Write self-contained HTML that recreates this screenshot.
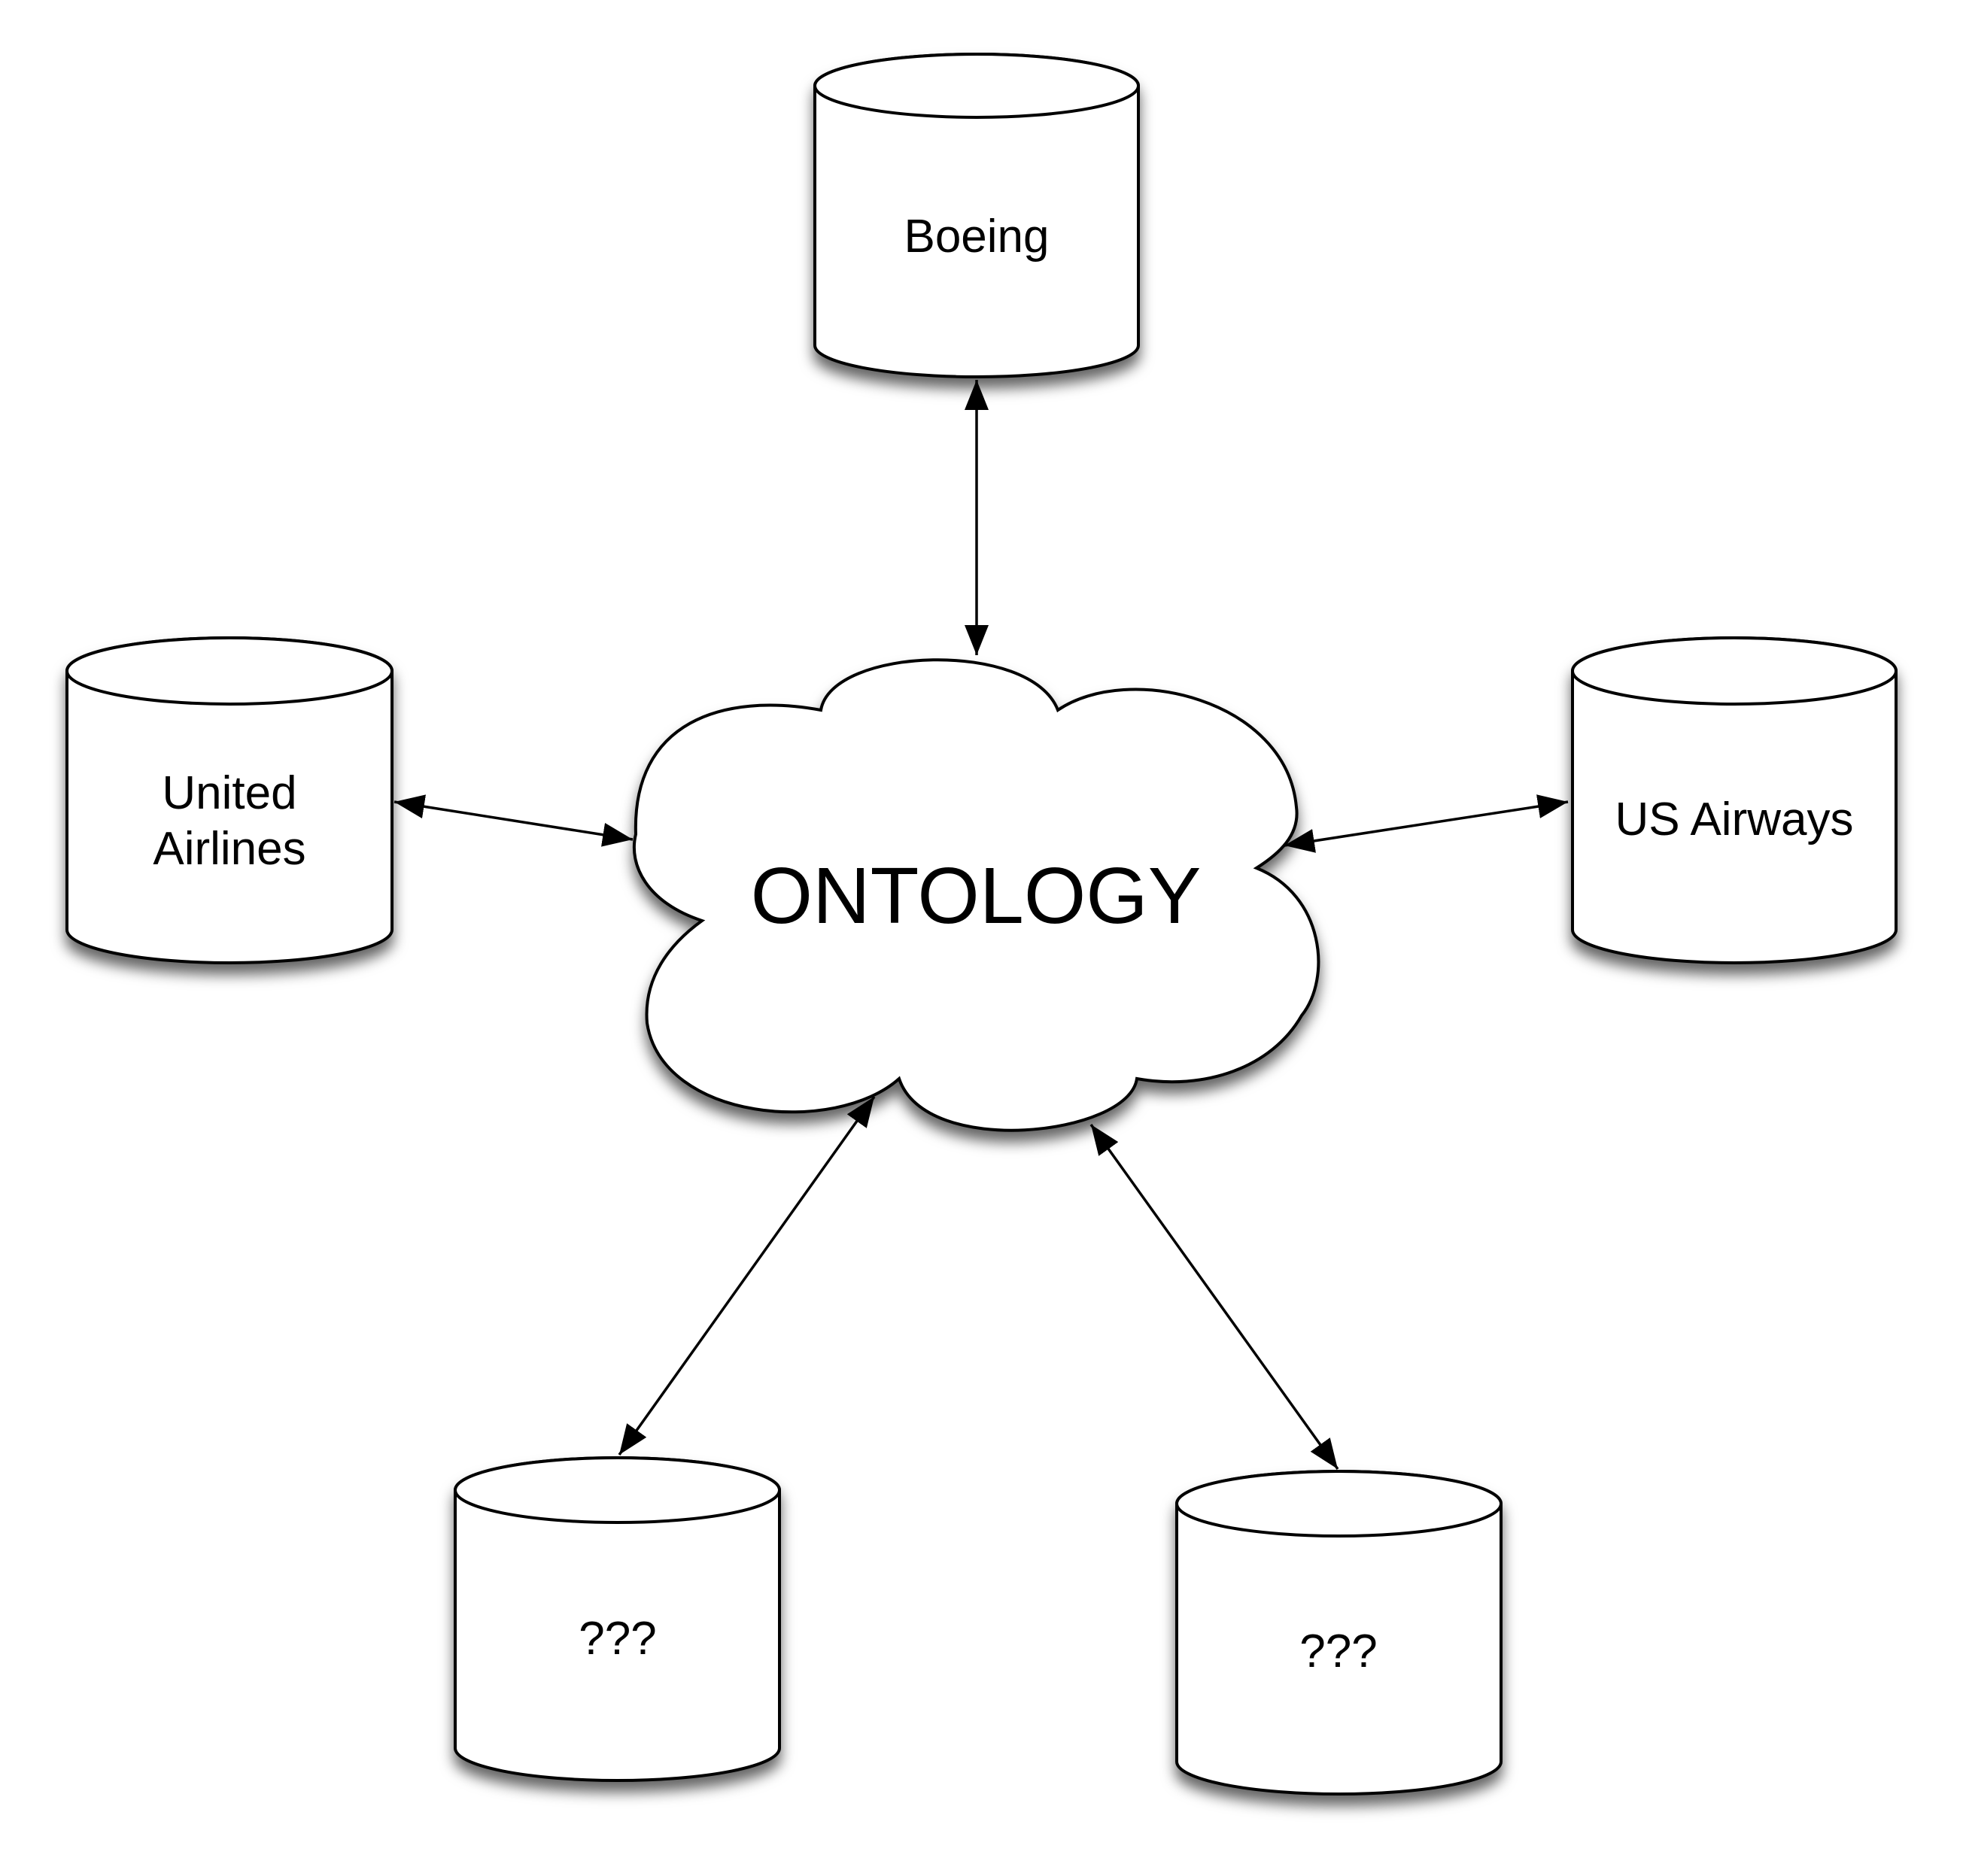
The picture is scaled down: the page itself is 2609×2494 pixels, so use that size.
<!DOCTYPE html>
<html><head><meta charset="utf-8"><style>html,body{margin:0;padding:0;background:#fff}svg{display:block}</style></head>
<body>
<svg width="2609" height="2494" viewBox="0 0 2609 2494" xmlns="http://www.w3.org/2000/svg" font-family="Liberation Sans, Arial, sans-serif">
<defs>
<filter id="sh" x="-20%" y="-20%" width="140%" height="150%">
<feDropShadow dx="0" dy="14" stdDeviation="9" flood-color="#000" flood-opacity="0.6"/>
</filter>
<marker id="ah" viewBox="0 0 40 32" refX="40" refY="16" markerWidth="40" markerHeight="32" markerUnits="userSpaceOnUse" orient="auto-start-reverse">
<path d="M0,0 L40,16 L0,32 Z" fill="#000"/>
</marker>
</defs>
<g stroke="#000" stroke-width="4" fill="#fff">
<g filter="url(#sh)"><path d="M1083,114 L1083,459 A215,42 0 0 0 1513,459 L1513,114 A215,42 0 0 0 1083,114 Z"/></g>
<ellipse cx="1298" cy="114" rx="215" ry="42"/>
<g filter="url(#sh)"><path d="M89,892 L89,1236 A216,44 0 0 0 521,1236 L521,892 A216,44 0 0 0 89,892 Z"/></g>
<ellipse cx="305" cy="892" rx="216" ry="44"/>
<g filter="url(#sh)"><path d="M2090,892 L2090,1236 A215,44 0 0 0 2520,1236 L2520,892 A215,44 0 0 0 2090,892 Z"/></g>
<ellipse cx="2305" cy="892" rx="215" ry="44"/>
<g filter="url(#sh)"><path d="M605,1981 L605,2324 A215.5,43 0 0 0 1036,2324 L1036,1981 A215.5,43 0 0 0 605,1981 Z"/></g>
<ellipse cx="820.5" cy="1981" rx="215.5" ry="43"/>
<g filter="url(#sh)"><path d="M1564,1999 L1564,2342 A215.5,43 0 0 0 1995,2342 L1995,1999 A215.5,43 0 0 0 1564,1999 Z"/></g>
<ellipse cx="1779.5" cy="1999" rx="215.5" ry="43"/>
<g filter="url(#sh)">
<path d="M1091,944 C1105,860 1370,850 1406,944 C1500,880 1710,930 1723,1073 C1728,1110 1700,1135 1670,1154 C1760,1190 1770,1300 1730,1350 C1690,1420 1600,1450 1511,1434 C1500,1510 1230,1540 1195,1434 C1110,1510 880,1490 860,1360 C855,1300 890,1255 933,1224 C860,1200 835,1150 845,1109 C840,960 960,920 1091,944 Z"/>
</g>
</g>
<g stroke="#000" stroke-width="3.5" fill="none">
<line x1="1298" y1="505" x2="1298" y2="871" marker-start="url(#ah)" marker-end="url(#ah)"/>
<line x1="524" y1="1066" x2="841" y2="1116" marker-start="url(#ah)" marker-end="url(#ah)"/>
<line x1="1707" y1="1124" x2="2084" y2="1066" marker-start="url(#ah)" marker-end="url(#ah)"/>
<line x1="1162" y1="1458" x2="823" y2="1934" marker-start="url(#ah)" marker-end="url(#ah)"/>
<line x1="1450" y1="1495" x2="1778" y2="1953" marker-start="url(#ah)" marker-end="url(#ah)"/>
</g>
<g fill="#000" text-anchor="middle" font-size="62">
<text x="1298" y="335">Boeing</text>
<text x="305" y="1075">United</text>
<text x="305" y="1149">Airlines</text>
<text x="2305" y="1110">US Airways</text>
<text x="821" y="2199">???</text>
<text x="1779" y="2216">???</text>
<text x="1297" y="1227" font-size="106">ONTOLOGY</text>
</g>
</svg>
</body></html>
